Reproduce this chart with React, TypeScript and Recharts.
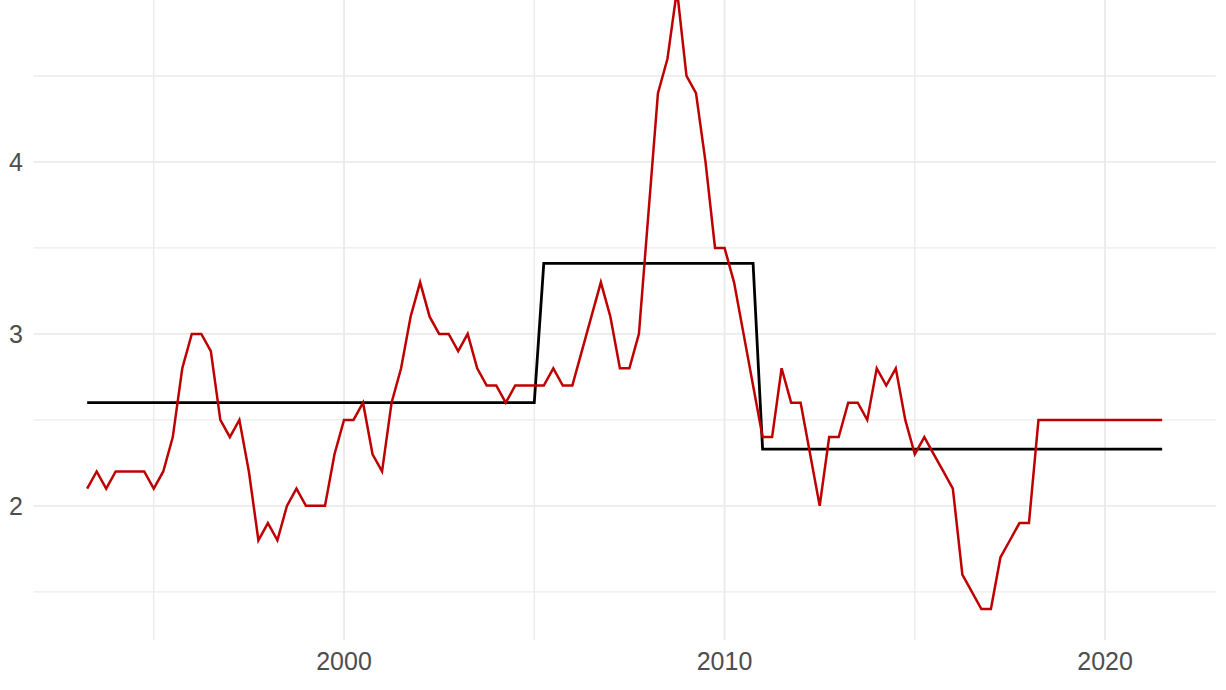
import React from "react";
import { LineChart, Line, XAxis, YAxis, ReferenceLine } from "recharts";

// Quarterly time points (decimal years)
const quarters: number[] = [
  1993.25, 1993.5, 1993.75,
  1994.0, 1994.25, 1994.5, 1994.75,
  1995.0, 1995.25, 1995.5, 1995.75,
  1996.0, 1996.25, 1996.5, 1996.75,
  1997.0, 1997.25, 1997.5, 1997.75,
  1998.0, 1998.25, 1998.5, 1998.75,
  1999.0, 1999.25, 1999.5, 1999.75,
  2000.0, 2000.25, 2000.5, 2000.75,
  2001.0, 2001.25, 2001.5, 2001.75,
  2002.0, 2002.25, 2002.5, 2002.75,
  2003.0, 2003.25, 2003.5, 2003.75,
  2004.0, 2004.25, 2004.5, 2004.75,
  2005.0, 2005.25, 2005.5, 2005.75,
  2006.0, 2006.25, 2006.5, 2006.75,
  2007.0, 2007.25, 2007.5, 2007.75,
  2008.0, 2008.25, 2008.5, 2008.75,
  2009.0, 2009.25, 2009.5, 2009.75,
  2010.0, 2010.25, 2010.5, 2010.75,
  2011.0, 2011.25, 2011.5, 2011.75,
  2012.0, 2012.25, 2012.5, 2012.75,
  2013.0, 2013.25, 2013.5, 2013.75,
  2014.0, 2014.25, 2014.5, 2014.75,
  2015.0, 2015.25, 2015.5, 2015.75,
  2016.0, 2016.25, 2016.5, 2016.75,
  2017.0, 2017.25, 2017.5, 2017.75,
  2018.0, 2018.25, 2018.5, 2018.75,
  2019.0, 2019.25, 2019.5, 2019.75,
  2020.0, 2020.25, 2020.5, 2020.75,
  2021.0, 2021.25, 2021.5,
];

// Red series (observed values)
const redValues: number[] = [
  2.1, 2.2, 2.1,
  2.2, 2.2, 2.2, 2.2,
  2.1, 2.2, 2.4, 2.8,
  3.0, 3.0, 2.9, 2.5,
  2.4, 2.5, 2.2, 1.8,
  1.9, 1.8, 2.0, 2.1,
  2.0, 2.0, 2.0, 2.3,
  2.5, 2.5, 2.6, 2.3,
  2.2, 2.6, 2.8, 3.1,
  3.3, 3.1, 3.0, 3.0,
  2.9, 3.0, 2.8, 2.7,
  2.7, 2.6, 2.7, 2.7,
  2.7, 2.7, 2.8, 2.7,
  2.7, 2.9, 3.1, 3.3,
  3.1, 2.8, 2.8, 3.0,
  3.7, 4.4, 4.6, 5.0,
  4.5, 4.4, 4.0, 3.5,
  3.5, 3.3, 3.0, 2.7,
  2.4, 2.4, 2.8, 2.6,
  2.6, 2.3, 2.0, 2.4,
  2.4, 2.6, 2.6, 2.5,
  2.8, 2.7, 2.8, 2.5,
  2.3, 2.4, 2.3, 2.2,
  2.1, 1.6, 1.5, 1.4,
  1.4, 1.7, 1.8, 1.9,
  1.9, 2.5, 2.5, 2.5,
  2.5, 2.5, 2.5, 2.5,
  2.5, 2.5, 2.5, 2.5,
  2.5, 2.5, 2.5,
];

// Black series (regime levels)
const blackValues: number[] = [
  2.6, 2.6, 2.6,
  2.6, 2.6, 2.6, 2.6,
  2.6, 2.6, 2.6, 2.6,
  2.6, 2.6, 2.6, 2.6,
  2.6, 2.6, 2.6, 2.6,
  2.6, 2.6, 2.6, 2.6,
  2.6, 2.6, 2.6, 2.6,
  2.6, 2.6, 2.6, 2.6,
  2.6, 2.6, 2.6, 2.6,
  2.6, 2.6, 2.6, 2.6,
  2.6, 2.6, 2.6, 2.6,
  2.6, 2.6, 2.6, 2.6,
  2.6, 3.41, 3.41, 3.41,
  3.41, 3.41, 3.41, 3.41,
  3.41, 3.41, 3.41, 3.41,
  3.41, 3.41, 3.41, 3.41,
  3.41, 3.41, 3.41, 3.41,
  3.41, 3.41, 3.41, 3.41,
  2.33, 2.33, 2.33, 2.33,
  2.33, 2.33, 2.33, 2.33,
  2.33, 2.33, 2.33, 2.33,
  2.33, 2.33, 2.33, 2.33,
  2.33, 2.33, 2.33, 2.33,
  2.33, 2.33, 2.33, 2.33,
  2.33, 2.33, 2.33, 2.33,
  2.33, 2.33, 2.33, 2.33,
  2.33, 2.33, 2.33, 2.33,
  2.33, 2.33, 2.33, 2.33,
  2.33, 2.33, 2.33,
];

const xTicks: number[] = [2000, 2010, 2020];
const xMinorGrid: number[] = [1995, 2005, 2015];
const yTicks: number[] = [2, 3, 4, 5];
const yMinorGrid: number[] = [1.5, 2.5, 3.5, 4.5];

const data = quarters.map((t, i) => ({ t, red: redValues[i], black: blackValues[i] }));

const FONT = "'Liberation Sans', Arial, sans-serif";
const GRID = "#EBEBEB";
const LABEL = "#4D4D4D";

const XTick = (props: any) => {
  const { x, y, payload } = props;
  return (
    <text x={x} y={y + 30} textAnchor="middle" fontFamily={FONT} fontSize={25} fill={LABEL}>
      {payload.value}
    </text>
  );
};

const YTick = (props: any) => {
  const { x, y, payload } = props;
  return (
    <text x={x - 10.5} y={y + 9} textAnchor="end" fontFamily={FONT} fontSize={25} fill={LABEL}>
      {payload.value}
    </text>
  );
};

export default function App() {
  return (
    <div
      style={{
        position: "absolute",
        top: 0,
        left: 0,
        width: 1226,
        height: 690,
        overflow: "hidden",
        background: "#fff",
      }}
    >
      <div style={{ position: "absolute", top: -41, left: 0 }}>
        <LineChart
          width={1226}
          height={731}
          data={data}
          margin={{ top: 0, right: 10.2, bottom: 0, left: 0 }}
        >
          {xMinorGrid.map((v) => (
            <ReferenceLine key={"vx" + v} x={v} stroke={GRID} strokeWidth={1.4} />
          ))}
          {yMinorGrid.map((v) => (
            <ReferenceLine key={"hy" + v} y={v} stroke={GRID} strokeWidth={1.4} />
          ))}
          {xTicks.map((v) => (
            <ReferenceLine key={"VX" + v} x={v} stroke={GRID} strokeWidth={1.9} />
          ))}
          {yTicks.map((v) => (
            <ReferenceLine key={"HY" + v} y={v} stroke={GRID} strokeWidth={1.9} />
          ))}
          <XAxis
            dataKey="t"
            type="number"
            domain={[1991.84, 2022.91]}
            ticks={xTicks}
            axisLine={false}
            tickLine={false}
            tickSize={0}
            tickMargin={0}
            height={50}
            tick={<XTick />}
            allowDataOverflow
          />
          <YAxis
            type="number"
            domain={[1.22, 5.18]}
            ticks={yTicks}
            axisLine={false}
            tickLine={false}
            tickSize={0}
            tickMargin={0}
            width={33.5}
            tick={<YTick />}
            allowDataOverflow
          />
          <Line
            type="linear"
            dataKey="black"
            stroke="#000000"
            strokeWidth={2.8}
            dot={false}
            isAnimationActive={false}
          />
          <Line
            type="linear"
            dataKey="red"
            stroke="#BE0000"
            strokeWidth={2.5}
            dot={false}
            isAnimationActive={false}
          />
        </LineChart>
      </div>
    </div>
  );
}
